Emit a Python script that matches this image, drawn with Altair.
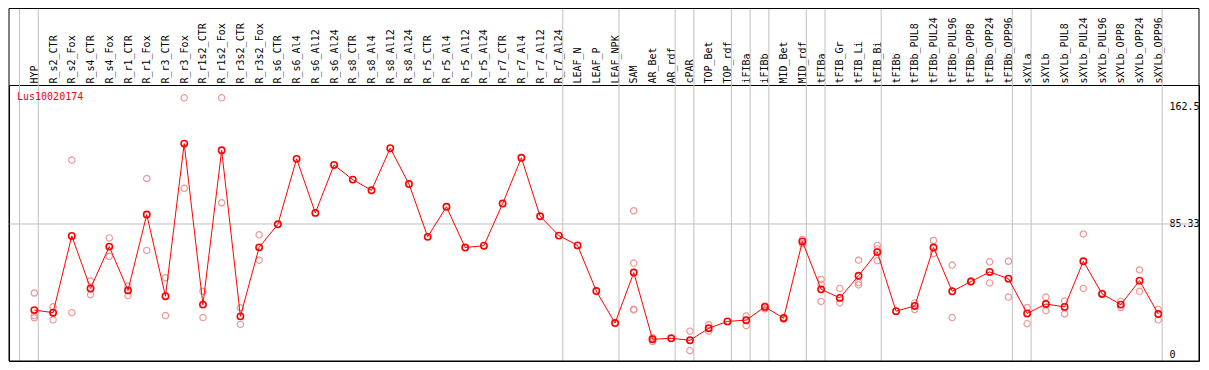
import altair as alt
import pandas as pd

gene = "Lus10020174"

names = [
    "HYP", "R_s2_CTR", "R_s2_Fox", "R_s4_CTR", "R_s4_Fox", "R_r1_CTR", "R_r1_Fox",
    "R_r3_CTR", "R_r3_Fox", "R_r1s2_CTR", "R_r1s2_Fox", "R_r3s2_CTR", "R_r3s2_Fox",
    "R_s6_CTR", "R_s6_Al4", "R_s6_Al12", "R_s6_Al24", "R_s8_CTR", "R_s8_Al4",
    "R_s8_Al12", "R_s8_Al24", "R_r5_CTR", "R_r5_Al4", "R_r5_Al12", "R_r5_Al24",
    "R_r7_CTR", "R_r7_Al4", "R_r7_Al12", "R_r7_Al24", "LEAF_N", "LEAF_P", "LEAF_NPK",
    "SAM", "AR_Bet", "AR_rdf", "cPAR", "TOP_Bet", "TOP_rdf", "iFIBa", "iFIBb",
    "MID_Bet", "MID_rdf", "tFIBa", "tFIB_Gr", "tFIB_Li", "tFIB_Bi", "tFIBb",
    "tFIBb_PUL8", "tFIBb_PUL24", "tFIBb_PUL96", "tFIBb_OPP8", "tFIBb_OPP24",
    "tFIBb_OPP96", "sXYLa", "sXYLb", "sXYLb_PUL8", "sXYLb_PUL24", "sXYLb_PUL96",
    "sXYLb_OPP8", "sXYLb_OPP24", "sXYLb_OPP96",
]

means = [
    28.9, 27.2, 77.5, 43.1, 70.5, 41.8, 91.5, 38.0, 138.0, 32.5, 133.6, 24.8, 70.0,
    85.1, 128.0, 92.6, 124.0, 114.4, 107.4, 135.0, 111.5, 76.9, 96.6, 69.9, 71.1,
    98.7, 128.7, 90.4, 77.7, 71.3, 41.4, 20.4,
    53.5, 9.8, 10.4, 9.1, 17.0, 21.5, 22.3, 31.0, 23.6, 73.9, 42.5, 36.9, 51.4, 66.9,
    28.2, 31.6, 69.9, 41.2, 47.6, 53.9, 49.5, 26.7, 32.9, 31.0, 60.9, 39.5, 32.5,
    48.2, 26.3,
]

rep_names = [
    "HYP", "HYP", "HYP", "R_s2_CTR", "R_s2_CTR", "R_s2_Fox", "R_s2_Fox",
    "R_s4_CTR", "R_s4_CTR", "R_s4_Fox", "R_s4_Fox", "R_r1_CTR", "R_r1_CTR",
    "R_r1_Fox", "R_r1_Fox", "R_r3_CTR", "R_r3_CTR", "R_r3_Fox", "R_r3_Fox",
    "R_r1s2_CTR", "R_r1s2_CTR", "R_r1s2_Fox", "R_r1s2_Fox", "R_r3s2_CTR", "R_r3s2_CTR",
    "R_r3s2_Fox", "R_r3s2_Fox",
    "SAM", "SAM", "SAM", "SAM", "AR_Bet", "AR_Bet", "cPAR", "cPAR", "TOP_Bet", "TOP_Bet",
    "iFIBa", "iFIBa", "iFIBb", "iFIBb", "MID_Bet", "MID_Bet", "MID_rdf", "MID_rdf",
    "tFIBa", "tFIBa", "tFIBa", "tFIB_Gr", "tFIB_Gr", "tFIB_Li", "tFIB_Li", "tFIB_Li",
    "tFIB_Bi", "tFIB_Bi", "tFIB_Bi", "tFIBb_PUL8", "tFIBb_PUL8", "tFIBb_PUL24",
    "tFIBb_PUL24", "tFIBb_PUL96", "tFIBb_PUL96", "tFIBb_OPP8", "tFIBb_OPP24",
    "tFIBb_OPP24", "tFIBb_OPP96", "tFIBb_OPP96", "sXYLa", "sXYLa", "sXYLb", "sXYLb",
    "sXYLb_PUL8", "sXYLb_PUL8", "sXYLb_PUL24", "sXYLb_PUL24", "sXYLb_PUL96",
    "sXYLb_OPP8", "sXYLb_OPP8", "sXYLb_OPP24", "sXYLb_OPP24", "sXYLb_OPP96", "sXYLb_OPP96",
]

rep_values = [
    40.1, 25.3, 23.9, 31.0, 22.5, 127.2, 27.2,
    48.0, 39.0, 76.2, 64.1, 44.6, 38.4,
    115.1, 68.0, 50.1, 25.3, 168.0, 108.7,
    41.2, 24.0, 168.0, 99.2, 30.4, 19.5,
    78.2, 61.6,
    94.0, 59.7, 29.5, 29.0, 10.8, 8.3, 15.1, 2.3, 19.3, 15.1,
    25.0, 18.7, 31.6, 29.8, 24.2, 23.0, 75.2, 72.4,
    49.0, 45.9, 34.6, 43.1, 33.6, 61.6, 46.9, 45.4,
    71.3, 69.0, 61.3, 33.6, 29.3, 74.5,
    66.0, 58.4, 24.0, 47.9, 60.5,
    46.7, 60.9, 37.4, 30.6, 20.0, 37.4, 28.5,
    34.8, 26.5, 78.8, 43.1, 39.9,
    34.6, 30.6, 55.2, 41.2, 29.3, 22.5,
]

# index of the last category of each group (-1 = before the first one)
group_ends = [-1, 0, 28, 31, 34, 35, 37, 38, 39, 41, 42, 45, 52, 53, 60]
y_ticks = [0, 85.33, 162.5]
mid_line = [85.33]

W, H = 1190, 276
TOP = 77

idx = {n: i for i, n in enumerate(names)}
mean_df = pd.DataFrame({"x": list(range(len(names))), "y": means, "name": names})
rep_df = pd.DataFrame({"x": [idx[n] for n in rep_names], "y": rep_values})
bound_df = pd.DataFrame({"x": [g + 0.21 for g in group_ends]})
mid_df = pd.DataFrame({"y": mid_line})
gene_df = pd.DataFrame({"t": [gene]})

label_expr = "[" + ",".join("'%s'" % n for n in names) + "][datum.value]"

xscale = alt.Scale(domain=[-1.353, 62.174], nice=False, zero=False)
yscale = alt.Scale(domain=[-4.46, 176.4], nice=False, zero=False)

xenc = alt.X(
    "x:Q", scale=xscale, title=None,
    axis=alt.Axis(
        orient="top", values=list(range(len(names))), labelExpr=label_expr,
        labelAngle=-90, labelAlign="left", labelBaseline="middle", labelPadding=2,
        labelFont="DejaVu Sans Mono", labelFontSize=10, labelColor="#000000",
        ticks=False, domain=False, grid=False, labelOverlap=False,
        labelBound=False, labelFlush=False,
    ),
)
yenc = alt.Y(
    "y:Q", scale=yscale, title=None,
    axis=alt.Axis(
        orient="right", values=y_ticks, labelExpr="'' + datum.value", offset=-30,
        labelPadding=0, labelAlign="left", labelBaseline="middle",
        labelFont="DejaVu Sans Mono", labelFontSize=10, labelColor="#000000",
        ticks=False, domain=False, grid=False, labelOverlap=False,
        labelBound=False, labelFlush=False,
    ),
)

frame = alt.Chart(gene_df).mark_rect(fill="#ffffff", fillOpacity=0, stroke="#000000", strokeWidth=1).encode(
    x=alt.value(0), x2=alt.value(W), y=alt.value(-TOP + 0.5), y2=alt.value(H)
)

bounds = alt.Chart(bound_df).mark_rule(color="#c0c0c0", strokeWidth=1).encode(
    x=xenc, y=alt.value(-TOP), y2=alt.value(H)
)

mid = alt.Chart(mid_df).mark_rule(color="#c0c0c0", strokeWidth=1).encode(
    y=yenc, x=alt.value(0), x2=alt.value(W)
)

reps = alt.Chart(rep_df).mark_point(shape="circle", filled=False, color="#ee9696", size=40, strokeWidth=1.2, opacity=1).encode(
    x=xenc, y=yenc
)

line = alt.Chart(mean_df).mark_line(color="#ff0000", strokeWidth=1).encode(
    x=xenc, y=yenc, order="x:Q"
)

pts = alt.Chart(mean_df).mark_point(shape="circle", filled=False, color="#ff0000", size=40, strokeWidth=1.6, opacity=1).encode(
    x=xenc, y=yenc
)

title = alt.Chart(gene_df).mark_text(
    align="left", baseline="middle", font="DejaVu Sans Mono", fontSize=10, color="#ff0000"
).encode(x=alt.value(8), y=alt.value(11.5), text="t:N")

chart = alt.layer(bounds, mid, frame, reps, line, pts, title).properties(
    width=W, height=H,
    padding={"left": 1, "top": TOP, "right": 2, "bottom": 1},
    autosize="none",
    background="#ffffff",
).configure_view(stroke="#000000", strokeWidth=1)

chart.save("out.html", embed_options={"renderer": "svg", "actions": False})
